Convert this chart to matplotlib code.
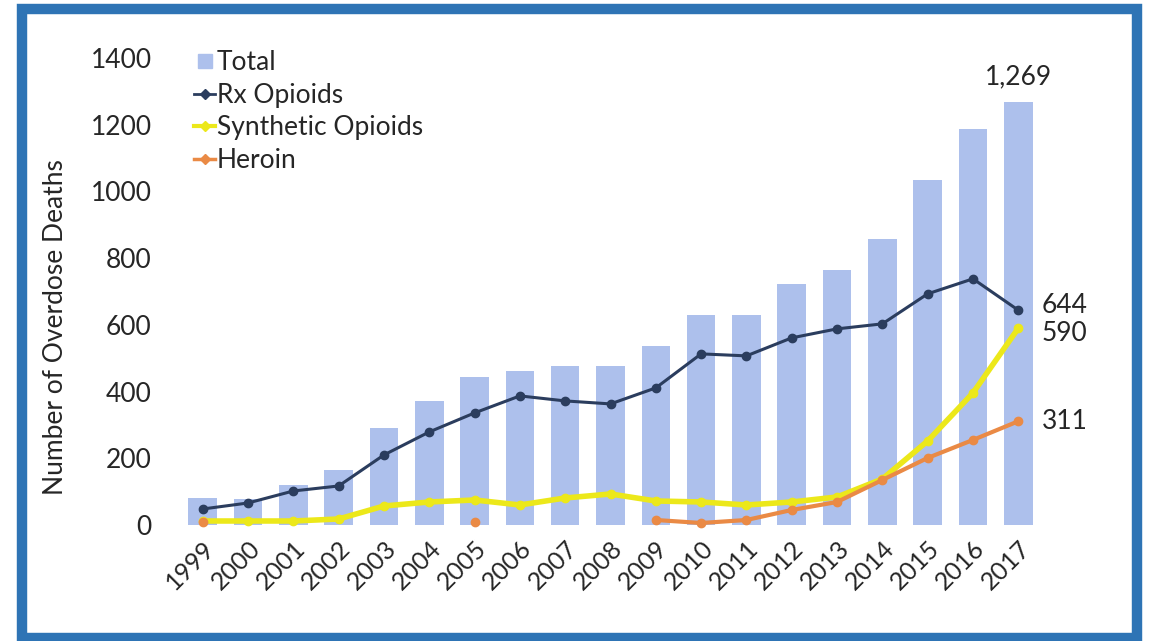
import numpy as np
import matplotlib.pyplot as plt
from matplotlib.patches import Rectangle
from matplotlib.lines import Line2D

years = [str(y) for y in range(1999, 2018)]
total = [80, 78, 120, 165, 290, 372, 444, 462, 477, 477, 537, 630, 630, 723, 765, 858, 1035, 1188, 1269]
rx = [48, 66, 102, 117, 210, 279, 336, 387, 372, 363, 411, 513, 507, 561, 588, 603, 693, 738, 644]
synthetic = [12, 12, 12, 18, 57, 69, 75, 60, 81, 93, 72, 69, 60, 69, 84, 138, 252, 396, 590]
heroin = [10, np.nan, np.nan, np.nan, np.nan, np.nan, 8, np.nan, np.nan, np.nan,
          15, 6, 15, 45, 69, 135, 201, 255, 311]

bar_col = '#adc0ec'
rx_col = '#2b3d5e'
syn_col = '#ece81a'
her_col = '#ea8a45'
txt_col = '#262626'

plt.rcParams['font.family'] = ['Lato', 'DejaVu Sans']

fig = plt.figure(figsize=(11.5, 6.41), dpi=100, facecolor='white')
ax = fig.add_axes([171 / 1150, 1 - 525 / 641, 879 / 1150, 467 / 641])

x = np.arange(len(years))
ax.bar(x, total, width=0.63, color=bar_col, zorder=1)
ax.plot(x, rx, color=rx_col, lw=2.2, marker='o', ms=6, zorder=3, clip_on=False)
ax.plot(x, synthetic, color=syn_col, lw=4, marker='o', ms=6, zorder=4, clip_on=False)
ax.plot(x, heroin, color=her_col, lw=3, marker='o', ms=6, zorder=5, clip_on=False)

ax.set_xlim(-0.7, 18.7)
ax.set_ylim(0, 1400)
ax.set_yticks(range(0, 1401, 200))
ax.set_xticks(x)
ax.set_xticklabels(years, rotation=45, ha='right', rotation_mode='anchor')
ax.tick_params(axis='both', length=0, labelsize=19, colors=txt_col)
ax.tick_params(axis='x', labelsize=18, pad=8)
ax.tick_params(axis='y', pad=14)
for s in ax.spines.values():
    s.set_visible(False)

ax.set_ylabel('Number of Overdose Deaths', fontsize=19, color=txt_col)
ax.yaxis.set_label_coords(-0.117, 0.424)

# end-of-series labels
ax.text(18, total[-1] + 38, '1,269', ha='center', va='bottom', fontsize=19, color=txt_col)
ax.text(18.52, rx[-1] + 15, '644', ha='left', va='center', fontsize=19, color=txt_col, clip_on=False)
ax.text(18.52, synthetic[-1] - 15, '590', ha='left', va='center', fontsize=19, color=txt_col, clip_on=False)
ax.text(18.52, heroin[-1], '311', ha='left', va='center', fontsize=19, color=txt_col, clip_on=False)

handles = [
    Line2D([], [], color=bar_col, marker='s', ms=10, lw=0),
    Line2D([], [], color=rx_col, marker='D', ms=5, lw=2),
    Line2D([], [], color=syn_col, marker='D', ms=5, lw=3),
    Line2D([], [], color=her_col, marker='D', ms=5, lw=2.5),
]
ax.legend(handles, ['Total', 'Rx Opioids', 'Synthetic Opioids', 'Heroin'],
          loc='upper left', bbox_to_anchor=(181 / 1150, 1 - 37 / 641),
          bbox_transform=fig.transFigure, frameon=False, fontsize=19,
          handlelength=0.8, handletextpad=0.05, labelspacing=0.29,
          borderpad=0, labelcolor=txt_col)

# blue frame around the whole chart
fig.add_artist(Rectangle((22 / 1150, 3 / 641), 1115 / 1150, 629 / 641,
                         transform=fig.transFigure, fill=False,
                         edgecolor='#2e74b5', lw=7.5))

fig.savefig('out.png', dpi=100, facecolor='white')
